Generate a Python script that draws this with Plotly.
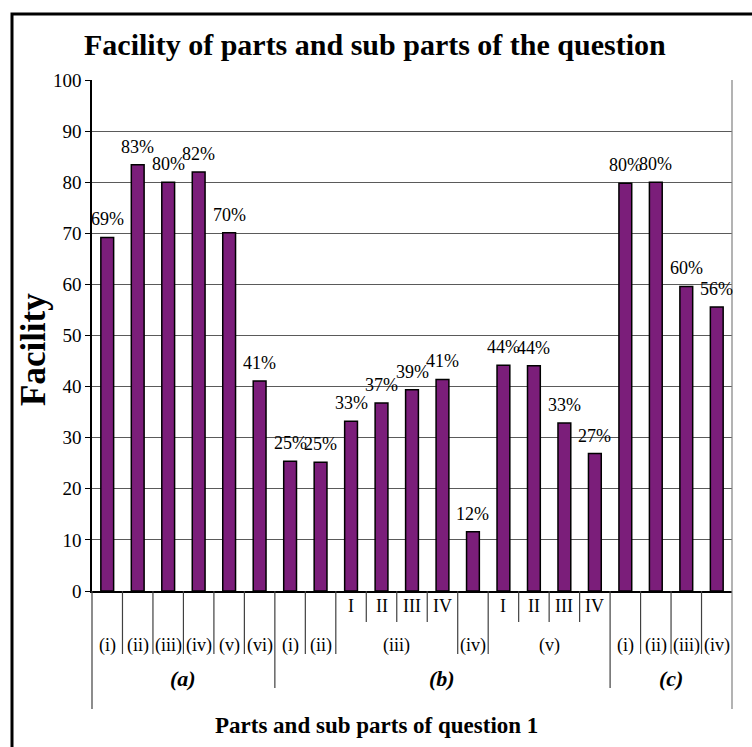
import plotly.graph_objects as go

# ---- data ----
part_a = [69.2, 83.4, 80.0, 82.0, 70.1, 41.1]
part_b = [25.4, 25.2, 33.2, 36.8, 39.4, 41.4, 11.6, 44.2, 44.1, 32.9, 26.9]
part_c = [79.8, 80.0, 59.6, 55.6]
values = part_a + part_b + part_c

level1_labels = ["", "", "", "", "", "", "", "", "I", "II", "III", "IV", "", "I", "II", "III", "IV", "", "", "", ""]
level2_labels = ["(i)", "(ii)", "(iii)", "(iv)", "(v)", "(vi)", "(i)", "(ii)",
                 "(iii)", "(iii)", "(iii)", "(iii)", "(iv)", "(v)", "(v)", "(v)", "(v)",
                 "(i)", "(ii)", "(iii)", "(iv)"]
level3_labels = ["(a)"] * 6 + ["(b)"] * 11 + ["(c)"] * 4

y_ticks = [0, 10, 20, 30, 40, 50, 60, 70, 80, 90, 100]

title_text = "Facility of parts and sub parts of the question"
x_title = "Parts and sub parts of question 1"
y_title = "Facility"

# ---- geometry helpers ----
W, H = 752, 747
L, R, T, B = 92, 732, 80, 591  # plot area pixel bounds
n = len(values)
xs = list(range(n))


def px(X):
    return (X - L) / (R - L)


def py(Y):
    return (B - Y) / (B - T)


FONT = "Liberation Serif, Times New Roman, serif"
BAR = "#7B1E7A"
LINE = "#404040"

fig = go.Figure()
fig.add_trace(go.Bar(
    x=xs, y=values, width=0.42,
    marker=dict(color=BAR, line=dict(color="black", width=1.5)),
    hoverinfo="skip",
))

annotations = []
# value labels
for i, v in enumerate(values):
    annotations.append(dict(x=i, y=v, xref="x", yref="y", text=f"{v:.0f}%",
                            showarrow=False, xanchor="center", yanchor="bottom", yshift=6,
                            font=dict(family=FONT, size=18, color="black")))


def spans(labels):
    out = []
    start = 0
    for i in range(1, len(labels) + 1):
        if i == len(labels) or labels[i] != labels[start]:
            out.append((start, i - 1, labels[start]))
            start = i
    return out


def paper_text(x, y, text, size, angle=0):
    return dict(x=x, y=y, xref="paper", yref="paper", text=text, textangle=angle,
                showarrow=False, xanchor="center", yanchor="middle",
                font=dict(family=FONT, size=size, color="black"))


# level 1 labels
for i, lab in enumerate(level1_labels):
    if lab:
        annotations.append(paper_text((i + 0.5) / n, py(606), lab, 18))
# level 2 labels
for s, e, lab in spans(level2_labels):
    annotations.append(paper_text(((s + e) / 2 + 0.5) / n, py(645), lab, 18))
# level 3 labels
for s, e, lab in spans(level3_labels):
    annotations.append(paper_text(((s + e) / 2 + 0.5) / n, py(678), f"<b><i>{lab}</i></b>", 22))

# titles
annotations.append(paper_text(px(375), py(45), f"<b>{title_text}</b>", 30))
annotations.append(paper_text(px(376), py(725), f"<b>{x_title}</b>", 23))
annotations.append(paper_text(px(33), py(350), f"<b>{y_title}</b>", 35, angle=-90))

shapes = []
# vertical separators of the category table
for k in range(n + 1):
    if k == 0 or k == n:
        bottom = 709
    elif level3_labels[k] != level3_labels[k - 1]:
        bottom = 688
    elif level2_labels[k] != level2_labels[k - 1] or level1_labels[k] == "" or level1_labels[k - 1] == "":
        bottom = 654
    else:
        bottom = 622
    top = B if k < n else T
    color = "#808080" if k == n else LINE
    shapes.append(dict(type="line", xref="paper", yref="paper", x0=k / n, x1=k / n,
                       y0=py(top), y1=py(bottom), line=dict(color=color, width=1.2)))
# outer frame
shapes.append(dict(type="rect", xref="paper", yref="paper", x0=px(12), x1=px(790),
                   y0=py(14), y1=py(790), line=dict(color="black", width=3)))

fig.update_layout(
    width=W, height=H,
    margin=dict(l=L, r=W - R, t=T, b=H - B),
    plot_bgcolor="white", paper_bgcolor="white",
    showlegend=False,
    xaxis=dict(range=[-0.5, n - 0.5], showticklabels=False, ticks="", showgrid=False,
               zeroline=False, showline=True, linecolor="black", linewidth=1.5, fixedrange=True),
    yaxis=dict(range=[0, 100], tickvals=y_ticks, ticktext=[str(t) for t in y_ticks],
               ticks="outside", ticklen=5, tickcolor="black", showline=True, linecolor="black",
               linewidth=1.5, showgrid=True, gridcolor="#5a5a5a", gridwidth=1, zeroline=False,
               tickfont=dict(family=FONT, size=19, color="black")),
    annotations=annotations,
    shapes=shapes,
)

fig.write_html("out.html", config={"displayModeBar": False},
               post_script="document.body.style.margin='0px';document.body.style.padding='0px';")
